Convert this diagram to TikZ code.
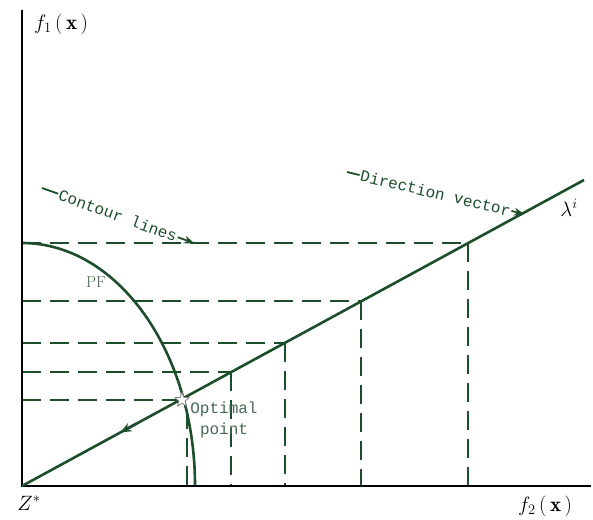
\documentclass[tikz,border=0pt]{standalone}
\usepackage{fontspec}
\newfontfamily\monof{Liberation Mono}
\usetikzlibrary{shapes.geometric,arrows.meta,calc}
\definecolor{dg}{RGB}{28,78,44}
\definecolor{lg}{RGB}{70,105,80}
\tikzset{
  curve/.style={draw=dg,line width=2.6pt},
  axis/.style={draw=black,line width=2.6pt},
  contour/.style={draw=dg,line width=2.2pt,dash pattern=on 19pt off 9pt},
  lbl/.style={font=\monof\fontsize{16}{16}\selectfont,text=dg,inner sep=1pt},
  ann/.style={draw=dg,line width=1.8pt},
}
\begin{document}
\begin{tikzpicture}[x=1pt,y=-1pt]
\useasboundingbox (0,0) rectangle (593,519);
% coordinates
\coordinate (O) at (22,486);
\coordinate (Ytop) at (22,10);
\coordinate (Xend) at (591,486);
\coordinate (L) at (584,180);
% contour intersections
\coordinate (c1) at (468,243);
\coordinate (c2) at (361,301);
\coordinate (c3) at (285,343);
\coordinate (c4) at (231,372);
\coordinate (c5) at (180,400);
% contour lines (horizontal and vertical)
\foreach \c in {c1,c2,c3,c4}{
  \draw[contour] (O |- \c) -- (\c);
  \draw[contour] (\c) -- (\c |- O);
}
\draw[contour] (O |- c5) -- (c5);
\coordinate (v5) at (187,410);
\draw[contour] (v5) -- (v5 |- O);
% PF curve
\draw[curve] (22,243) arc[start angle=90,end angle=0,x radius=173,y radius=-243];
% axes
\draw[axis] (Ytop) -- (O) -- (Xend);
% direction line
\draw[curve] (O) -- (L);
\draw[dg,line width=2.6pt,-{Stealth[length=11pt,width=9pt]}] ($(O)!0.205!(L)$) -- ($(O)!0.175!(L)$);
% optimal point star
\node[star,star points=5,star point ratio=2.3,draw=gray,fill=white,line width=0.8pt,minimum size=15pt,inner sep=0pt] (opt) at (182,400) {};
% labels
\node[anchor=west,inner sep=0pt] (f1) at (34,24) {\fontsize{21}{21}\selectfont$f_1\,(\,\mathbf{x}\,)$};
\node[anchor=west,inner sep=0pt] (f2) at (518,506) {\fontsize{21}{21}\selectfont$f_2\,(\,\mathbf{x}\,)$};
\node[inner sep=0pt] (Z) at (29,503) {\fontsize{21}{21}\selectfont$Z^{*}$};
\node[inner sep=0pt] (lam) at (569,208) {\fontsize{21}{21}\selectfont$\lambda^{i}$};
\node[font=\fontsize{16}{16}\selectfont,text=lg,inner sep=0pt] (pf) at (96,282) {PF};
\node[font=\monof\fontsize{16}{21}\selectfont,text=lg,align=center,inner sep=0pt] (optl) at (224,420) {Optimal\\point};
% contour annotation
\coordinate (cs) at (42,188);
\coordinate (ce) at (194,243);
\node[lbl,rotate=-20] (ct) at ($(cs)!0.5!(ce)$) {Contour lines};
\draw[ann] (cs) -- (ct.west);
\draw[ann,-{Stealth[length=10pt,width=8pt]}] (ct.east) -- (ce);
% direction annotation
\coordinate (ds) at (347,172);
\coordinate (de) at (524,214);
\node[lbl,rotate=-13.3] (dt) at ($(ds)!0.5!(de)$) {Direction vector};
\draw[ann] (ds) -- (dt.west);
\draw[ann,-{Stealth[length=10pt,width=8pt]}] (dt.east) -- (de);
\end{tikzpicture}
\end{document}
